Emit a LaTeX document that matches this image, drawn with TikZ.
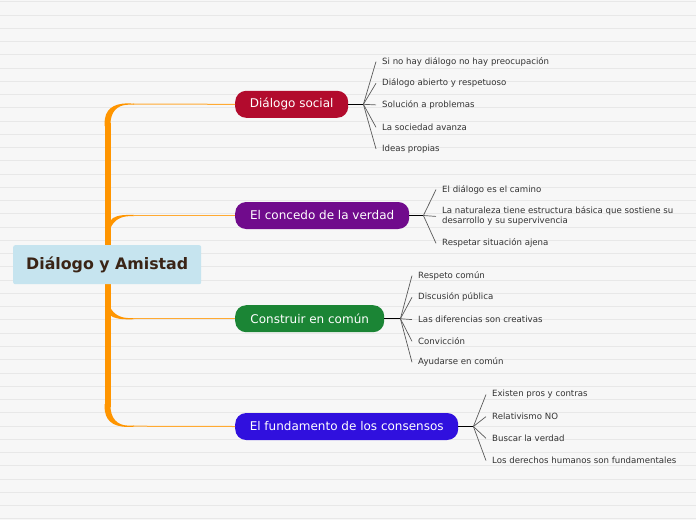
\documentclass[tikz,border=0pt]{standalone}
\usepackage{fontspec}
\setmainfont{DejaVu Sans}
\definecolor{bg}{HTML}{F7F7F7}
\definecolor{bgline}{HTML}{E8E8E8}
\definecolor{trunkorange}{HTML}{FF9500}
\definecolor{orangelight}{HTML}{FFAA33}
\definecolor{centralblue}{HTML}{C6E4EF}
\definecolor{centraltext}{HTML}{3A2416}
\definecolor{cred}{HTML}{B20B2D}
\definecolor{cpurple}{HTML}{700B8C}
\definecolor{cgreen}{HTML}{1B8535}
\definecolor{cblue}{HTML}{3010DE}
\definecolor{leafgray}{HTML}{333333}
\definecolor{linegray}{HTML}{5A5A5A}
\begin{document}
\begin{tikzpicture}[x=1pt,y=-1pt,
  mainnode/.style={rounded corners=11pt, minimum height=27pt, inner xsep=0pt, text=white, font=\fontsize{12}{14}\selectfont, anchor=west},
  leaf/.style={anchor=west, inner xsep=6pt, inner ysep=1pt, text=leafgray, font=\fontsize{8.6}{10}\selectfont, align=left},
  forkline/.style={draw=black, line width=1.5pt},
  leafline/.style={draw=linegray, line width=0.7pt},
  branchline/.style={draw=orangelight, line width=1pt},
  trunk/.style={fill=trunkorange, draw=none},
  bgrule/.style={draw=bgline, line width=0.9pt}
]
% background
\fill[bg] (0,0) rectangle (696,520);
\useasboundingbox (0,0) rectangle (696,520);
\foreach \k in {0,...,39} {\draw[bgrule] (0,{1.7+13.26*\k}) -- (696,{1.7+13.26*\k});}

% trunk
\fill[trunk] (104.5,123) rectangle (110.5,407);
\fill[trunk] (104.5,126) -- (104.5,124) .. controls (104.5,110) and (112,103.4) .. (128,103.4) -- (134,103.6) -- (134,104.6) -- (128,104.7) .. controls (117,104.9) and (110.5,112) .. (110.5,124) -- (110.5,126) -- cycle;
\fill[trunk] (104.5,404) -- (104.5,406) .. controls (104.5,420) and (112,426.9) .. (128,426.9) -- (134,426.7) -- (134,425.7) -- (128,425.6) .. controls (117,425.4) and (110.5,418) .. (110.5,406) -- (110.5,404) -- cycle;
\fill[trunk] (110,221) .. controls (113,216.5) and (119,214.9) .. (130,214.9) -- (134,215) -- (134,216) -- (130,216.1) .. controls (121,216.3) and (114,219.5) .. (110,229) -- cycle;
\fill[trunk] (110,307) .. controls (114,315) and (121,318.1) .. (130,318.1) -- (134,318.2) -- (134,319.2) -- (130,319.3) .. controls (119,319.4) and (113,318) .. (110,315) -- cycle;

\coordinate (t1) at (133,104.1);
\coordinate (t2) at (133,215.5);
\coordinate (t3) at (133,318.7);
\coordinate (t4) at (133,426.2);

% central node
\node[fill=centralblue, rounded corners=2pt, minimum width=188pt, minimum height=39pt, anchor=north west, text=centraltext, font=\bfseries\fontsize{15.8}{18}\selectfont] (c) at (13,245) {Diálogo y Amistad};

% main nodes
\node[mainnode, fill=cred, minimum width=113pt] (n1) at (235,104.3) {Diálogo social};
\node[mainnode, fill=cpurple, minimum width=174pt] (n2) at (235,215.5) {El concedo de la verdad};
\node[mainnode, fill=cgreen, minimum width=149pt] (n3) at (235,318.7) {Construir en común};
\node[mainnode, fill=cblue, minimum width=223pt] (n4) at (235,426.5) {El fundamento de los consensos};

\draw[branchline] (t1) -- (n1.west);
\draw[branchline] (t2) -- (n2.west);
\draw[branchline] (t3) -- (n3.west);
\draw[branchline] (t4) -- (n4.west);

% forks
\coordinate (f1) at ([xshift=15pt]n1.east);
\coordinate (f2) at ([xshift=14pt]n2.east);
\coordinate (f3) at ([xshift=16pt]n3.east);
\coordinate (f4) at ([xshift=15pt]n4.east);
\draw[forkline] (n1.east) -- (f1);
\draw[forkline] (n2.east) -- (f2);
\draw[forkline] (n3.east) -- (f3);
\draw[forkline] (n4.east) -- (f4);

% group 1
\node[leaf] (l11) at (376,61.6) {Si no hay diálogo no hay preocupación};
\node[leaf] (l12) at (376,83.3) {Diálogo abierto y respetuoso};
\node[leaf] (l13) at (376,104.9) {Solución a problemas};
\node[leaf] (l14) at (376,127.3) {La sociedad avanza};
\node[leaf] (l15) at (376,148.9) {Ideas propias};
\foreach \n in {l11,l12,l13,l14,l15} {\draw[leafline] (f1) -- (\n.west);}

% group 2
\node[leaf] (l21) at (436,189.6) {El diálogo es el camino};
\node[leaf] (l22) at (436,216.4) {La naturaleza tiene estructura básica que sostiene su\\desarrollo y su supervivencia};
\node[leaf] (l23) at (436,243.3) {Respetar situación ajena};
\foreach \n in {l21,l22,l23} {\draw[leafline] (f2) -- (\n.west);}

% group 3
\node[leaf] (l31) at (412,275.6) {Respeto común};
\node[leaf] (l32) at (412,297.3) {Discusión pública};
\node[leaf] (l33) at (412,319.6) {Las diferencias son creativas};
\node[leaf] (l34) at (412,341.3) {Convicción};
\node[leaf] (l35) at (412,362.3) {Ayudarse en común};
\foreach \n in {l31,l32,l33,l34,l35} {\draw[leafline] (f3) -- (\n.west);}

% group 4
\node[leaf] (l41) at (486,394.6) {Existen pros y contras};
\node[leaf] (l42) at (486,416.6) {Relativismo NO};
\node[leaf] (l43) at (486,438.3) {Buscar la verdad};
\node[leaf] (l44) at (486,460.6) {Los derechos humanos son fundamentales};
\foreach \n in {l41,l42,l43,l44} {\draw[leafline] (f4) -- (\n.west);}
\end{tikzpicture}
\end{document}
